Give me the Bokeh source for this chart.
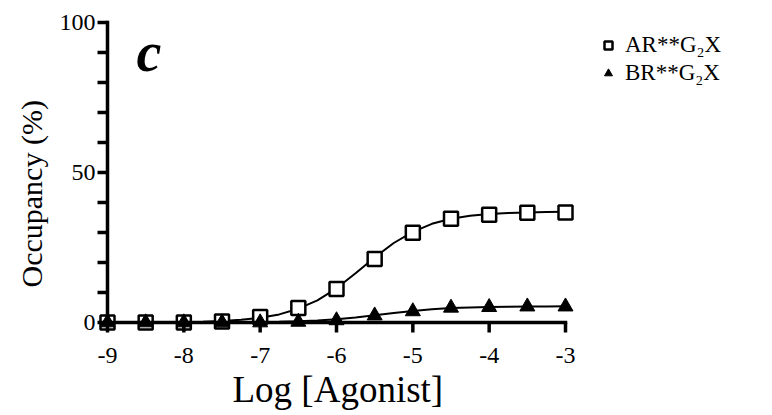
import math
from bokeh.plotting import figure
from bokeh.models import Range1d, FixedTicker, Label, Legend, LegendItem, Title
from bokeh.embed import file_html
from bokeh.resources import INLINE

# ---- data ----
log_agonist = [-9, -8.5, -8, -7.5, -7, -6.5, -6, -5.5, -5, -4.5, -4, -3.5, -3]
ar_g2x = [0, 0, 0, 0.3, 1.8, 4.8, 11.2, 21.2, 29.9, 34.6, 35.9, 36.6, 36.7]
br_g2x = [0, 0, 0, 0, 0, 0.2, 0.7, 2.3, 3.7, 4.9, 5.1, 5.3, 5.3]

curve_x = [-9, -8.75, -8.5, -8.25, -8, -7.75, -7.5, -7.25, -7, -6.75, -6.5, -6.25,
           -6, -5.75, -5.5, -5.25, -5, -4.75, -4.5, -4.25, -4, -3.75, -3.5, -3.25, -3]
ar_curve = [0.02, 0.03, 0.05, 0.09, 0.16, 0.29, 0.52, 0.91, 1.6, 2.7, 4.6, 7.4,
            11.4, 16.4, 21.7, 26.5, 30.2, 32.9, 34.6, 35.6, 36.2, 36.5, 36.7, 36.8, 36.9]
br_curve = [0.0, 0.0, 0.01, 0.01, 0.01, 0.02, 0.04, 0.08, 0.13, 0.23, 0.4, 0.67,
            1.08, 1.67, 2.39, 3.16, 3.86, 4.41, 4.8, 5.04, 5.19, 5.28, 5.33, 5.37, 5.39]

x_ticks = [-9, -8, -7, -6, -5, -4, -3]
x_tick_labels = ["-9", "-8", "-7", "-6", "-5", "-4", "-3"]
y_ticks = [0, 10, 20, 30, 40, 50, 60, 70, 80, 90, 100]
y_tick_labels = ["0", "", "", "", "", "50", "", "", "", "", "100"]
series_names = ["AR**G\u2082X", "BR**G\u2082X"]
panel_letter = "c"
x_title = "Log [Agonist]"
y_title = "Occupancy (%)"

FONT = "Liberation Serif"

# frame geometry (px)
W, H = 772, 415
FL, FT, FB = 96, 0, 334             # frame left / top / bottom (page px)
X0_PX, X1_PX, Y0_PX = 107, 565, 322  # where x=-9, x=-3 and y=0 fall
PX_PER_X = (X1_PX - X0_PX) / (x_ticks[-1] - x_ticks[0])
PX_PER_Y = 3.0

x_start = x_ticks[0] - (X0_PX - FL) / PX_PER_X
x_end = x_ticks[-1] + (W - X1_PX) / PX_PER_X
y_start = -(FB - Y0_PX) / PX_PER_Y
y_end = (Y0_PX - FT) / PX_PER_Y

p = figure(width=W, height=H, output_backend="svg", toolbar_location=None,
           x_range=Range1d(x_start, x_end), y_range=Range1d(y_start, y_end),
           min_border_left=FL, min_border_right=0, min_border_top=FT,
           min_border_bottom=H - FB)
p.outline_line_color = None
p.grid.visible = False

# curves
p.line(curve_x, ar_curve, line_color="black", line_width=2)
p.line(curve_x, br_curve, line_color="black", line_width=2)
# points
r_ar = p.scatter(log_agonist, ar_g2x, marker="square", size=14, fill_color="white",
                 line_color="black", line_width=2.5)
r_br = p.scatter(log_agonist, br_g2x, marker="triangle", size=15, fill_color="black",
                 line_color="black", line_width=1)

# axis lines and ticks drawn in data space (so they sit at x=-9 / y=0)
TICK = 10
LW = 3.5
x_lo, x_hi = x_ticks[0], x_ticks[-1]
y_lo, y_hi = y_ticks[0], y_ticks[-1]
p.segment(x0=[x_lo, x_lo], y0=[y_lo, y_lo], x1=[x_hi, x_lo], y1=[y_lo, y_hi],
          line_color="black", line_width=LW, line_cap="square")
p.segment(x0=x_ticks, y0=[y_lo] * len(x_ticks), x1=x_ticks,
          y1=[y_lo - TICK / PX_PER_Y] * len(x_ticks), line_color="black", line_width=LW)
p.segment(x0=[x_lo] * len(y_ticks), y0=y_ticks, x1=[x_lo - TICK / PX_PER_X] * len(y_ticks),
          y1=y_ticks, line_color="black", line_width=LW)

# built-in axes carry the tick labels
for ax in (p.xaxis[0], p.yaxis[0]):
    ax.axis_line_color = None
    ax.major_tick_line_color = None
    ax.minor_tick_line_color = None
    ax.major_tick_out = 0
    ax.major_tick_in = 0
    ax.major_label_text_font = FONT
    ax.major_label_text_font_size = "24px"
    ax.major_label_text_color = "black"

xa = p.xaxis[0]
xa.ticker = FixedTicker(ticks=x_ticks)
xa.major_label_overrides = dict(zip(x_ticks, x_tick_labels))
xa.major_label_standoff = 13

ya = p.yaxis[0]
ya.ticker = FixedTicker(ticks=y_ticks)
ya.major_label_overrides = dict(zip(y_ticks, y_tick_labels))
ya.major_label_standoff = 1

# axis titles as side titles, positioned like the reference (off-centre)
p.add_layout(Title(text=y_title, align="left", offset=FB - 287, vertical_align="middle",
                   text_font=FONT, text_font_size="30px", text_font_style="normal",
                   text_color="black", standoff=16), "left")
p.add_layout(Title(text=x_title, align="left", offset=232 - FL, vertical_align="top",
                   text_font=FONT, text_font_size="37px", text_font_style="normal",
                   text_color="black", standoff=6, text_line_height=1.0), "below")

p.add_layout(Label(x=x_lo + (136 - X0_PX) / PX_PER_X, y=(Y0_PX - 51) / PX_PER_Y,
                   text=panel_letter, text_font=FONT, text_font_size="56px",
                   text_font_style="bold italic", text_baseline="alphabetic",
                   text_align="left", text_color="black"))

legend = Legend(items=[LegendItem(label=series_names[0], renderers=[r_ar]),
                       LegendItem(label=series_names[1], renderers=[r_br])],
                location=(502, 247), label_text_font=FONT, label_text_font_size="23px",
                label_text_color="black",
                border_line_color=None, background_fill_alpha=0, padding=0, spacing=0,
                glyph_width=20, glyph_height=28, label_height=28, label_standoff=7, margin=0)
p.add_layout(legend)

open("out.html", "w").write(file_html(p, INLINE))
